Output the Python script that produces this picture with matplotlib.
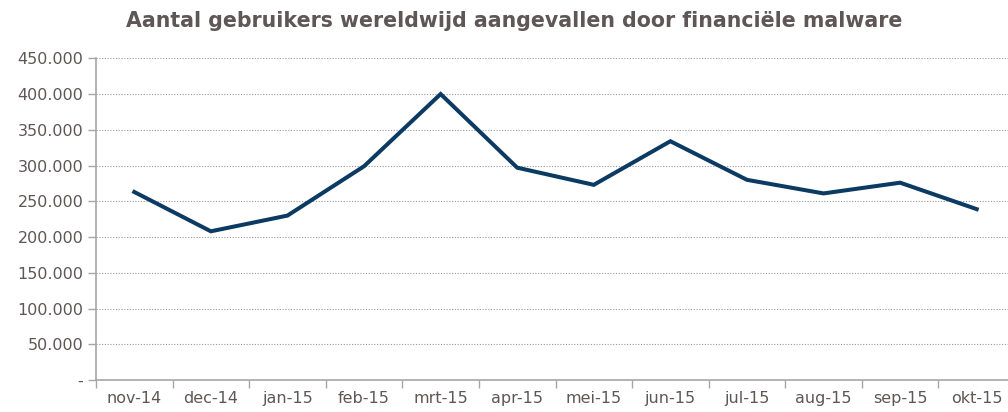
import matplotlib
matplotlib.use("Agg")
import matplotlib.pyplot as plt
import numpy as np

# maandelijkse aantallen
maanden = ["nov-14", "dec-14", "jan-15", "feb-15", "mrt-15", "apr-15",
           "mei-15", "jun-15", "jul-15", "aug-15", "sep-15", "okt-15"]
gebruikers = [263000, 208000, 230000, 299000, 400000, 297000,
              273000, 334000, 280000, 261000, 276000, 239000]
y_ticks = [0, 50000, 100000, 150000, 200000, 250000, 300000, 350000, 400000, 450000]

tekst_kleur = "#5f5656"
as_kleur = "#a6a6a6"

fig = plt.figure(figsize=(10.08, 4.12), dpi=100)
ax = fig.add_axes([96 / 1008, 32 / 412, 919 / 1008, 321.7 / 412])

x = np.arange(len(maanden))
ax.plot(x, gebruikers, color="#0b3a63", linewidth=2.9, solid_joinstyle="miter")

ax.set_xlim(-0.5, len(maanden) - 0.5)
ax.set_ylim(0, 450000)

ax.set_yticks(y_ticks)
ax.set_yticklabels(["-"] + [f"{v:,}".replace(",", ".") for v in y_ticks[1:]])
ax.set_xticks(x)
ax.set_xticklabels(maanden)
ax.set_xticks(np.arange(-0.5, len(maanden)), minor=True)

ax.tick_params(axis="x", which="major", length=0, pad=8, labelsize=11.5, labelcolor=tekst_kleur)
ax.tick_params(axis="x", which="minor", length=6, color=as_kleur, width=1)
ax.tick_params(axis="y", length=6, color=as_kleur, width=1, pad=3,
               labelsize=11.5, labelcolor=tekst_kleur)

ax.grid(axis="y", color="#9a9a9a", linestyle=(0, (1, 1.5)), linewidth=0.8)
for s in ["top", "right"]:
    ax.spines[s].set_visible(False)
for s in ["left", "bottom"]:
    ax.spines[s].set_color(as_kleur)
    ax.spines[s].set_linewidth(1.2)

fig.text(514 / 1008, 1 - 21 / 412, "Aantal gebruikers wereldwijd aangevallen door financiële malware",
         ha="center", va="center", fontsize=14.8, fontweight="bold", color=tekst_kleur)

fig.savefig("out.png", dpi=100)
